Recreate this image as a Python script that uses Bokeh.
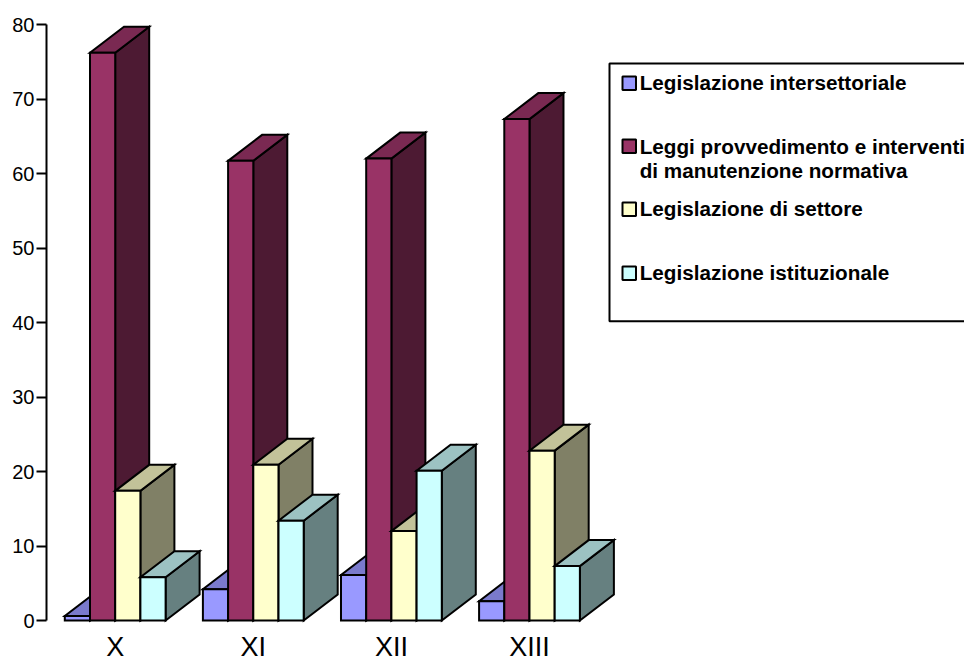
from bokeh.plotting import figure
from bokeh.models import FixedTicker, Range1d
from bokeh.core.properties import value
from bokeh.embed import file_html
from bokeh.resources import INLINE

categories = ["X", "XI", "XII", "XIII"]
series_names = ["Legislazione intersettoriale", "Leggi provvedimento e interventi",
                "Legislazione di settore", "Legislazione istituzionale"]
intersettoriale = [0.6, 4.2, 6.1, 2.6]
provvedimento = [76.2, 61.7, 62.0, 67.3]
settore = [17.4, 20.9, 12.0, 22.8]
istituzionale = [5.8, 13.4, 20.1, 7.3]
y_ticks = [0, 10, 20, 30, 40, 50, 60, 70, 80]
front = ["#9999FF", "#993366", "#FFFFCC", "#CCFFFF"]
top = ["#7A7ACC", "#7A2952", "#C2C299", "#9CC2C2"]
side = ["#666699", "#4D1A33", "#808066", "#668080"]

W, H = 964, 663
LEFT = 46
PX_Y = 7.45
PX_X = 25.2
Y0 = 620                 # canvas px of y=0
X0 = 64.3                # canvas px of first bar's left edge
GROUP = 5.48             # group pitch, in bar widths
DX, DY = 34 / PX_X, 26 / PX_Y

def lx(px):
    return (px - X0) / PX_X

def ly(px):
    return (Y0 - px) / PX_Y

FONT = "Liberation Sans"
p = figure(width=W, height=H, output_backend="svg", toolbar_location=None,
           x_range=Range1d(-(X0 - LEFT) / PX_X, (W - X0) / PX_X),
           y_range=Range1d(-(H - Y0) / PX_Y, Y0 / PX_Y),
           min_border_left=LEFT, min_border_bottom=0, min_border_top=0, min_border_right=0)
p.grid.visible = False
p.outline_line_color = None
p.background_fill_color = "white"
p.xaxis.visible = False

# 3D bars: painter's order, left to right
xs, ys, cols = [], [], []
all_series = [intersettoriale, provvedimento, settore, istituzionale]
for g in range(len(categories)):
    for s, vals in enumerate(all_series):
        l = g * GROUP + s
        r = l + 1
        v = vals[g]
        xs.append([r, r + DX, r + DX, r]); ys.append([0, DY, v + DY, v]); cols.append(side[s])
        xs.append([l, r, r + DX, l + DX]); ys.append([v, v, v + DY, v + DY]); cols.append(top[s])
        xs.append([l, r, r, l]); ys.append([0, 0, v, v]); cols.append(front[s])
p.patches(xs, ys, fill_color=cols, line_color="black", line_width=2, line_join="miter")

# Axes
ya = p.yaxis[0]
ya.ticker = FixedTicker(ticks=y_ticks)
ya.bounds = (0, 80)
ya.axis_line_width = 2
ya.axis_line_color = "black"
ya.major_tick_line_width = 2
ya.major_tick_line_color = "black"
ya.major_tick_out = 10
ya.major_tick_in = 0
ya.minor_tick_line_color = None
ya.major_label_standoff = 2
ya.major_label_text_font = FONT
ya.major_label_text_font_size = "20px"
ya.major_label_text_color = "black"

# Category labels
p.text(x=[g * GROUP + 2 for g in range(len(categories))], y=[ly(646.5)] * len(categories),
       text=categories, text_font=value(FONT), text_font_size="27px", text_color="black",
       text_align="center", text_baseline="middle")

# Legend box
p.quad(left=[lx(609)], right=[lx(990)], top=[ly(63)], bottom=[ly(320.7)],
       fill_color="white", line_color="black", line_width=2)
sw_tops = [76, 139, 202, 266]
for c, t in zip(front, sw_tops):
    p.quad(left=[lx(622)], right=[lx(635.5)], top=[ly(t)], bottom=[ly(t + 13.5)],
           fill_color=c, line_color="black", line_width=2)
legend_lines = [(639.2, 82.2, series_names[0]), (639.2, 145.7, series_names[1]),
                (639.2, 170.2, "di manutenzione normativa"), (639.2, 208.2, series_names[2]),
                (639.2, 271.7, series_names[3])]
p.text(x=[lx(a) for a, _, _ in legend_lines], y=[ly(b) for _, b, _ in legend_lines],
       text=[c for _, _, c in legend_lines], text_font=value(FONT), text_font_style="bold",
       text_font_size="20.7px", text_color="black", text_baseline="middle", text_align="left")

open("out.html", "w").write(file_html(p, INLINE))
